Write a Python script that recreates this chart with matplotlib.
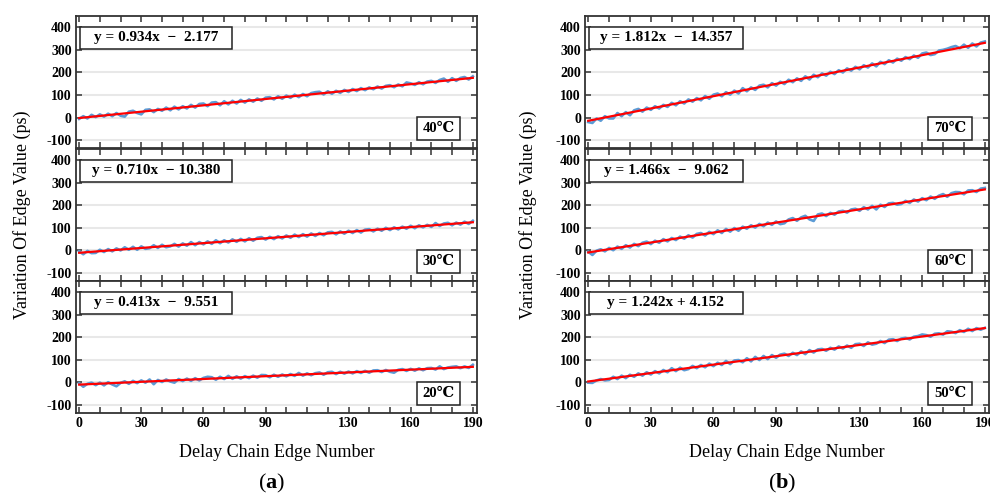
import numpy as np
import matplotlib
matplotlib.use('Agg')
import matplotlib.pyplot as plt
from matplotlib.patches import Rectangle

plt.rcParams['font.family'] = ['Liberation Serif', 'DejaVu Serif', 'Noto Sans CJK SC']
plt.rcParams['mathtext.fontset'] = 'custom'
plt.rcParams['mathtext.rm'] = 'Liberation Serif'
plt.rcParams['mathtext.bf'] = 'Liberation Serif:bold'

# edge numbers (every 2nd edge)
edges = list(range(0, 191, 2))

y_40 = [-6, 6, -4, 12, 2, 14, 4, 17, 6, 20, 8, 4, 26, 30, 20, 14, 34, 36, 24, 38,
        30, 44, 32, 48, 36, 50, 40, 56, 44, 60, 62, 50, 66, 68, 54, 72, 58, 74, 62, 78,
        66, 80, 70, 84, 74, 88, 90, 80, 94, 83, 97, 87, 101, 90, 104, 94, 108, 112, 114, 102,
        116, 105, 118, 109, 122, 113, 126, 117, 130, 121, 133, 125, 137, 128, 140, 143, 134, 146, 138, 155,
        151, 144, 156, 147, 159, 162, 153, 166, 172, 158, 174, 162, 175, 179, 168, 182]
y_30 = [-4, -17, -2, -12, -11, 3, -7, 6, -4, 9, 0, 14, 3, 16, 3, 18, 7, 10, 23, 11,
        25, 14, 18, 29, 17, 31, 21, 37, 23, 37, 27, 40, 29, 45, 32, 45, 35, 49, 38, 51,
        40, 54, 43, 56, 59, 48, 60, 50, 63, 53, 66, 56, 70, 59, 72, 61, 75, 64, 77, 67,
        80, 82, 71, 84, 74, 87, 77, 90, 79, 92, 94, 84, 96, 87, 100, 90, 102, 93, 105, 96,
        109, 98, 111, 102, 113, 104, 121, 108, 119, 122, 111, 123, 114, 127, 117, 131]
y_20 = [-4, -19, -6, -1, -12, -1, -13, 1, -9, -17, -2, 5, -6, 7, -3, 9, -1, 13, -8, 11,
        2, 13, 4, -1, 15, 6, 17, 7, 19, 9, 20, 25, 23, 12, 25, 15, 29, 16, 27, 17,
        28, 19, 30, 21, 33, 32, 23, 34, 25, 35, 27, 37, 29, 42, 30, 40, 32, 41, 44, 34,
        45, 47, 37, 47, 39, 48, 40, 50, 42, 51, 43, 53, 54, 46, 55, 47, 43, 56, 59, 51,
        60, 52, 62, 54, 63, 64, 57, 71, 59, 66, 69, 71, 63, 71, 64, 78]
y_70 = [-20, -24, -4, -14, 6, -4, -4, 20, 6, 24, 10, 32, 38, 26, 44, 34, 50, 40, 56, 47,
        65, 54, 72, 62, 80, 70, 86, 76, 95, 83, 101, 106, 94, 112, 101, 119, 106, 130, 116, 133,
        122, 141, 145, 133, 152, 141, 158, 148, 167, 156, 173, 162, 182, 168, 189, 178, 195, 185, 202, 192,
        209, 199, 217, 207, 224, 213, 231, 221, 239, 226, 246, 236, 253, 243, 260, 251, 267, 258, 274, 264,
        283, 287, 276, 280, 296, 299, 304, 311, 316, 306, 322, 308, 327, 314, 331, 336]
y_60 = [-6, -20, -1, 5, -4, 11, 1, 17, 7, 23, 13, 29, 19, 34, 39, 28, 43, 34, 50, 40,
        55, 46, 61, 52, 67, 57, 73, 77, 66, 82, 72, 89, 77, 95, 83, 99, 87, 105, 96, 111,
        101, 117, 107, 123, 113, 128, 116, 120, 137, 143, 131, 146, 153, 137, 130, 159, 163, 152, 166, 158,
        172, 175, 167, 181, 184, 175, 191, 181, 197, 181, 202, 192, 208, 210, 202, 205, 219, 210, 225, 216,
        231, 222, 238, 228, 242, 249, 237, 253, 258, 257, 248, 265, 266, 258, 273, 276]
y_50 = [-1, -2, 9, 15, 9, 11, 25, 15, 30, 19, 34, 25, 40, 30, 45, 35, 50, 40, 55, 45,
        63, 50, 65, 54, 59, 73, 63, 77, 67, 83, 72, 87, 77, 95, 81, 97, 99, 89, 107, 93,
        113, 99, 117, 103, 121, 109, 123, 127, 117, 131, 121, 137, 125, 143, 132, 146, 148, 140, 153, 145,
        159, 150, 163, 153, 169, 171, 161, 177, 167, 171, 183, 174, 189, 191, 183, 194, 197, 190, 202, 205,
        212, 209, 202, 215, 217, 211, 226, 224, 218, 231, 223, 237, 227, 240, 233, 241]

# linear fits printed on the chart
slopes = [0.934, 0.710, 0.413, 1.812, 1.466, 1.242]
intercepts = [-2.177, -10.380, -9.551, -14.357, -9.062, 4.152]
eq_labels = ['y = 0.934x  \u2212  2.177', 'y = 0.710x  \u2212 10.380', 'y = 0.413x  \u2212  9.551',
             'y = 1.812x  \u2212  14.357', 'y = 1.466x  \u2212  9.062', 'y = 1.242x + 4.152']
temp_labels = ['40\u2103', '30\u2103', '20\u2103', '70\u2103', '60\u2103', '50\u2103']
series = [y_40, y_30, y_20, y_70, y_60, y_50]

xtick_pos = list(range(0, 191, 10))
xtick_shown = ['0', '30', '60', '90', '130', '160', '190']
yticks = [-100, 0, 100, 200, 300, 400]

fig = plt.figure(figsize=(9.9, 4.97), dpi=100)

col_left = [0.0768, 0.591]
col_w = [0.405, 0.408]
row_bottom = [0.702, 0.4346, 0.169]
row_h = 0.2665
ylab_x = [0.022, 0.533]

blue = '#5b9bd5'

for i in range(6):
    c = i // 3
    r = i % 3
    ax = fig.add_axes([col_left[c], row_bottom[r], col_w[c], row_h])
    ax.set_xlim(-1.5, 192)
    ax.set_ylim(-135, 450)
    for yy in yticks:
        ax.axhline(yy, color='#e8e8e8', lw=1.5, zorder=0)
    ax.plot(edges, series[i], color=blue, lw=1.9, zorder=2)
    fx = np.array([0, 190])
    ax.plot(fx, slopes[i] * fx + intercepts[i], color='#ff0000', lw=1.6, zorder=3)

    ax.set_xticks(xtick_pos)
    if r == 2:
        ax.set_xticklabels([str(t) if str(t) in xtick_shown else '' for t in xtick_pos])
    else:
        ax.set_xticklabels([])
    ax.set_yticks(yticks)
    ax.set_yticklabels([str(t) for t in yticks])
    ax.tick_params(direction='in', top=True, right=True, length=4, width=1.1,
                   color='#333333', labelsize=10, pad=3)
    for lab in ax.get_xticklabels() + ax.get_yticklabels():
        lab.set_fontweight('bold')
    for sp in ax.spines.values():
        sp.set_linewidth(1.3)
        sp.set_color('#333333')

    ax.add_patch(Rectangle((0.01, 0.75), 0.38, 0.167, transform=ax.transAxes,
                           facecolor='white', edgecolor='#222222', lw=1.1, zorder=4))
    ax.text(0.2, 0.833, eq_labels[i], transform=ax.transAxes, ha='center', va='center',
            fontsize=11, fontweight='bold', zorder=5)
    ax.add_patch(Rectangle((0.85, 0.06), 0.108, 0.175, transform=ax.transAxes,
                           facecolor='white', edgecolor='#222222', lw=1.1, zorder=4))
    ax.text(0.904, 0.148, temp_labels[i], transform=ax.transAxes, ha='center', va='center',
            fontsize=10.5, fontweight='bold', zorder=5)

for c, tag in enumerate(['a', 'b']):
    xc = col_left[c] + col_w[c] / 2
    fig.text(ylab_x[c], 0.568, 'Variation Of Edge Value (ps)', rotation=90,
             ha='center', va='center', fontsize=13)
    fig.text(xc, 0.09, 'Delay Chain Edge Number', ha='center', va='center', fontsize=13)
    fig.text(xc - 0.005, 0.028, '($\\mathbf{' + tag + '}$)', ha='center', va='center', fontsize=16)

fig.savefig('out.png', dpi=100)
